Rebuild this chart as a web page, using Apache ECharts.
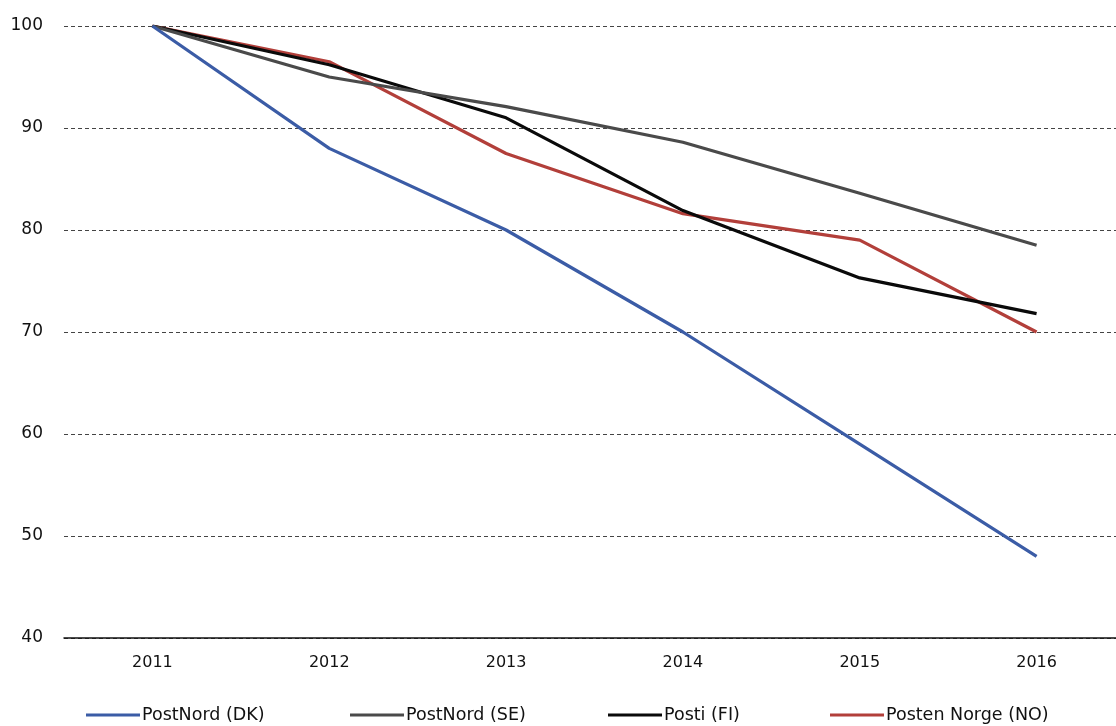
<!DOCTYPE html>
<html>
<head>
<meta charset="utf-8">
<script src="https://cdn.jsdelivr.net/npm/echarts@6/dist/echarts.min.js"></script>
<style>
html,body{margin:0;padding:0;background:#fff;}
#c{width:1116px;height:726px;}
</style>
</head>
<body>
<div id="c"></div>
<script>
var years = ['2011','2012','2013','2014','2015','2016'];
var seriesNames = ['PostNord (DK)','PostNord (SE)','Posti (FI)','Posten Norge (NO)'];
var postNordDK = [100, 88, 80, 70, 59, 48];
var postNordSE = [100, 95, 92.1, 88.6, 83.6, 78.5];
var postiFI = [100, 96.2, 91, 81.9, 75.3, 71.8];
var postenNO = [100, 96.5, 87.5, 81.6, 79, 70];
var yTicks = [40, 50, 60, 70, 80, 90, 100];

var colors = ['#3b5ca6', '#4a4a4a', '#0a0a0a', '#b23f3a'];
var dataSets = [postNordDK, postNordSE, postiFI, postenNO];
var legendLeft = [86, 350, 608, 830];

var chart = echarts.init(document.getElementById('c'), null, {renderer:'canvas'});
var series = seriesNames.map(function(n, i){
  return {
    name: n, type: 'line', data: dataSets[i],
    symbol: 'none', smooth: false,
    lineStyle: {color: colors[i], width: 3.2},
    itemStyle: {color: colors[i]},
    z: 10 - i
  };
});
var legends = seriesNames.map(function(n, i){
  return {
    data: [n], left: legendLeft[i], top: 706,
    icon: 'rect', itemWidth: 54, itemHeight: 3, itemGap: 0,
    textStyle: {fontFamily: 'DejaVu Sans', fontSize: 17.5, color: '#111', padding: [0,0,0,-3]},
    padding: 0
  };
});
chart.setOption({
  animation: false,
  backgroundColor: '#ffffff',
  legend: legends,
  grid: {left: 64, top: 26, width: 1061, height: 612, containLabel: false, outerBoundsMode: 'none'},
  xAxis: {
    type: 'category', data: years, boundaryGap: true,
    axisLine: {show: true, lineStyle: {color: '#111', width: 1.5}},
    axisTick: {show: false},
    axisLabel: {fontFamily: 'DejaVu Sans', fontSize: 16, color: '#111', margin: 17},
    splitLine: {show: false}
  },
  yAxis: {
    type: 'value', min: yTicks[0], max: yTicks[yTicks.length-1], interval: 10,
    axisLine: {show: false}, axisTick: {show: false},
    axisLabel: {fontFamily: 'DejaVu Sans', fontSize: 17, color: '#111', margin: 21},
    splitLine: {show: true, lineStyle: {color: '#444', width: 1, type: [4, 3]}}
  },
  series: series
});
</script>
</body>
</html>
